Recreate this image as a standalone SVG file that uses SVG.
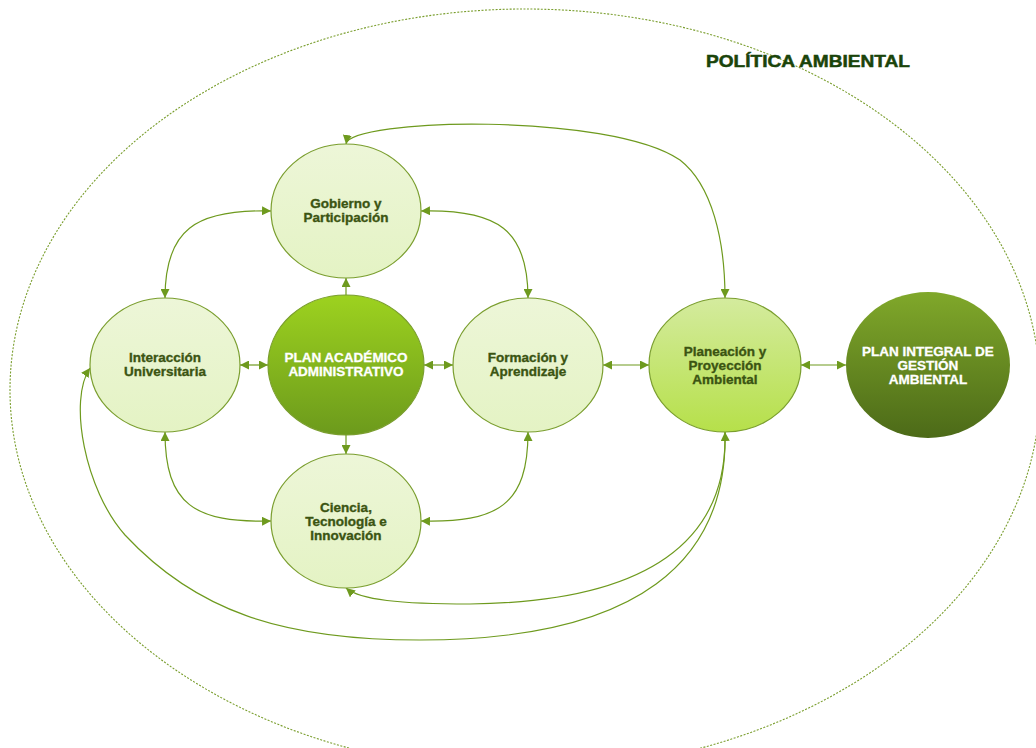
<svg xmlns="http://www.w3.org/2000/svg" width="1036" height="748" viewBox="0 0 1036 748">
<defs>
<linearGradient id="gLight" x1="0" y1="0" x2="0" y2="1"><stop offset="0" stop-color="#EDF6D8"/><stop offset="1" stop-color="#E4F3C4"/></linearGradient>
<linearGradient id="gAcad" x1="0" y1="0" x2="0" y2="1"><stop offset="0" stop-color="#9DD21F"/><stop offset="1" stop-color="#6C9A1C"/></linearGradient>
<linearGradient id="gPlan" x1="0" y1="0" x2="0" y2="1"><stop offset="0" stop-color="#D4EB9E"/><stop offset="1" stop-color="#B6E04A"/></linearGradient>
<linearGradient id="gInt" x1="0" y1="0" x2="0" y2="1"><stop offset="0" stop-color="#80A82A"/><stop offset="1" stop-color="#4C6A18"/></linearGradient>
<marker id="ah" viewBox="0 0 10 10" refX="10" refY="5" markerWidth="9" markerHeight="9" markerUnits="userSpaceOnUse" orient="auto-start-reverse"><path d="M0,0 L10,5 L0,10 z" fill="#6E9A1E"/></marker>
<style>
.node{stroke:#7A9E2E;stroke-width:1.2}
.lt{font-family:"Liberation Sans",Arial,sans-serif;font-weight:bold;font-size:13.5px;fill:#3B5412;stroke:#3B5412;stroke-width:0.35;text-anchor:middle}
.wt{font-family:"Liberation Sans",Arial,sans-serif;font-weight:bold;font-size:13.5px;fill:#FFFFFF;stroke:#FFFFFF;stroke-width:0.3;text-anchor:middle}
.cn{fill:none;stroke:#6E9A1E;stroke-width:1.2;marker-end:url(#ah)}
.both{marker-start:url(#ah)}
</style>
</defs>
<rect width="1036" height="748" fill="#FFFFFF"/>
<g id="politica">
<ellipse cx="525" cy="390" rx="515" ry="381" fill="none" stroke="#7A9E2E" stroke-width="1.1" stroke-dasharray="2,1.5"/>
<text x="808" y="67" font-family="Liberation Sans,Arial,sans-serif" font-weight="bold" font-size="17" fill="#1A440A" stroke="#1A440A" stroke-width="0.5" text-anchor="middle" textLength="204" lengthAdjust="spacingAndGlyphs">POLÍTICA AMBIENTAL</text>
</g>
<g id="connectors">
<path class="cn both" d="M271,211 C195,209 165,230 165,298"/>
<path class="cn both" d="M421,211 C498,209 528,230 528,298"/>
<path class="cn both" d="M271,521 C195,523 165,505 165,432"/>
<path class="cn both" d="M421,521 C498,523 528,505 528,432"/>
<path class="cn" d="M346,295 L346,278"/>
<path class="cn" d="M346,435 L346,454"/>
<path class="cn both" d="M240,365 L268,365"/>
<path class="cn both" d="M424,365 L453,365"/>
<path class="cn both" d="M603,365 L649,365"/>
<path class="cn both" d="M801,365 L846,365"/>
<path class="cn both" d="M346,144 C350,118 610,112 680,160 C712,185 725,240 725,298"/>
<path class="cn both" d="M725,432 C728,540 650,602 470,604 C400,604 360,600 346,588"/>
<path class="cn" d="M725,432 C728,560 640,640 420,640 C280,640 195,610 125,535 C85,490 68,400 90,368"/>
</g>
<g id="gobierno">
<ellipse class="node" cx="346" cy="211" rx="75" ry="67" fill="url(#gLight)"/>
<text class="lt" x="346" y="208">Gobierno y</text>
<text class="lt" x="346" y="222">Participación</text>
</g>
<g id="interaccion">
<ellipse class="node" cx="165" cy="365" rx="75" ry="67" fill="url(#gLight)"/>
<text class="lt" x="165" y="362">Interacción</text>
<text class="lt" x="165" y="376">Universitaria</text>
</g>
<g id="plan-academico">
<ellipse class="node" cx="346" cy="365" rx="78" ry="70" fill="url(#gAcad)"/>
<text class="wt" x="346" y="362">PLAN ACADÉMICO</text>
<text class="wt" x="346" y="376">ADMINISTRATIVO</text>
</g>
<g id="formacion">
<ellipse class="node" cx="528" cy="365" rx="75" ry="67" fill="url(#gLight)"/>
<text class="lt" x="528" y="362">Formación y</text>
<text class="lt" x="528" y="376">Aprendizaje</text>
</g>
<g id="planeacion">
<ellipse class="node" cx="725" cy="365" rx="76" ry="67" fill="url(#gPlan)"/>
<text class="lt" x="725" y="356">Planeación y</text>
<text class="lt" x="725" y="370">Proyección</text>
<text class="lt" x="725" y="384">Ambiental</text>
</g>
<g id="plan-integral">
<ellipse cx="928" cy="365" rx="82" ry="73" fill="url(#gInt)"/>
<text class="wt" x="928" y="356">PLAN INTEGRAL DE</text>
<text class="wt" x="928" y="370">GESTIÓN</text>
<text class="wt" x="928" y="384">AMBIENTAL</text>
</g>
<g id="ciencia">
<ellipse class="node" cx="346" cy="521" rx="75" ry="67" fill="url(#gLight)"/>
<text class="lt" x="346" y="512">Ciencia,</text>
<text class="lt" x="346" y="526">Tecnología e</text>
<text class="lt" x="346" y="540">Innovación</text>
</g>
</svg>
